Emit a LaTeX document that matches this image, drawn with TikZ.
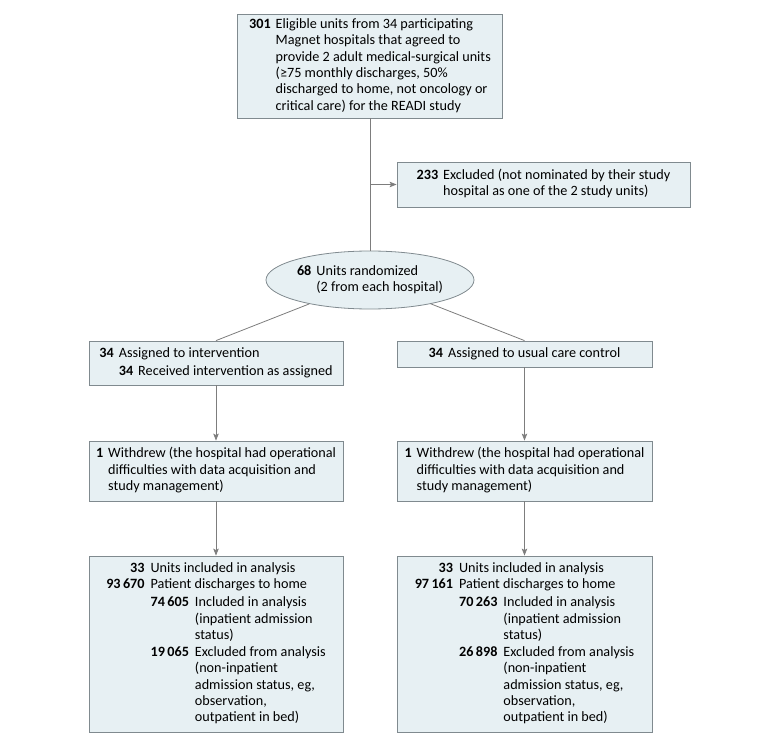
\documentclass[tikz,border=0pt]{standalone}
\usepackage{fontspec}
\setmainfont{Carlito}
\usetikzlibrary{shapes.geometric,arrows.meta}
\definecolor{boxfill}{RGB}{231,240,243}
\definecolor{boxline}{RGB}{128,138,143}
\definecolor{arrline}{RGB}{125,125,125}
\tikzset{
  box/.style={draw=boxline,fill=boxfill,line width=0.8pt,inner sep=0pt,align=left},
  link/.style={draw=arrline,line width=0.8pt},
  arr/.style={link,-{Stealth[length=7pt,width=5.5pt,inset=1.5pt]}}
}
\newcommand{\num}[1]{\textbf{#1}}
\newcommand{\spanl}[1]{\multicolumn{2}{@{}l@{}}{#1}}

\begin{document}
\begin{tikzpicture}[x=1pt,y=-1pt,font=\fontsize{14.2}{16.3}\selectfont]
  \useasboundingbox (0,0) rectangle (780,746);
  \node[box,minimum width=265pt,minimum height=104pt] (elig) at (370,66)
    {\begin{tabular}{@{}r@{\hspace{5pt}}l@{}}
      \num{301} & Eligible units from 34 participating\\
      & Magnet hospitals that agreed to\\
      & provide 2 adult medical-surgical units\\
      & (≥75 monthly discharges, 50\%\\
      & discharged to home, not oncology or\\
      & critical care) for the READI study
    \end{tabular}};
  \node[box,minimum width=293pt,minimum height=45pt] (excl) at (543.5,184.5)
    {\begin{tabular}{@{}r@{\hspace{5pt}}l@{}}
      \num{233} & Excluded (not nominated by their study\\
      & hospital as one of the 2 study units)
    \end{tabular}};
  \node[box,ellipse,minimum width=208pt,minimum height=58pt] (rand) at (370,280)
    {\begin{tabular}{@{}r@{\hspace{5pt}}l@{}}
      \num{68} & Units randomized\\
      & (2 from each hospital)
    \end{tabular}};
  \node[box,minimum width=254pt,minimum height=44pt] (asgL) at (216,363)
    {\begin{tabular}{@{}r@{\hspace{5pt}}r@{\hspace{5pt}}l@{}}
      \num{34} & \spanl{Assigned to intervention}\\[1.5pt]
      & \num{34} & Received intervention as assigned
    \end{tabular}};
  \node[box,minimum width=255pt,minimum height=26pt] (asgR) at (524.5,354)
    {\begin{tabular}{@{}r@{\hspace{5pt}}l@{}}
      \num{34} & Assigned to usual care control
    \end{tabular}};
  \node[box,minimum width=254pt,minimum height=60pt] (wdL) at (216,471)
    {\begin{tabular}{@{}r@{\hspace{5pt}}l@{}}
      \num{1} & Withdrew (the hospital had operational\\
      & difficulties with data acquisition and\\
      & study management)
    \end{tabular}};
  \node[box,minimum width=255pt,minimum height=60pt] (wdR) at (524.5,471)
    {\begin{tabular}{@{}r@{\hspace{5pt}}l@{}}
      \num{1} & Withdrew (the hospital had operational\\
      & difficulties with data acquisition and\\
      & study management)
    \end{tabular}};
  \node[box,minimum width=254pt,minimum height=176pt] (anaL) at (216,644)
    {\begin{tabular}{@{}r@{\hspace{6pt}}r@{\hspace{6pt}}l@{}}
      \num{33} & \spanl{Units included in analysis}\\
      \num{93\,670} & \spanl{Patient discharges to home}\\[1.5pt]
      & \num{74\,605} & Included in analysis\\
      & & (inpatient admission\\
      & & status)\\[1pt]
      & \num{19\,065} & Excluded from analysis\\
      & & (non-inpatient\\
      & & admission status, eg,\\
      & & observation,\\
      & & outpatient in bed)
    \end{tabular}};
  \node[box,minimum width=255pt,minimum height=176pt] (anaR) at (524.5,644)
    {\begin{tabular}{@{}r@{\hspace{6pt}}r@{\hspace{6pt}}l@{}}
      \num{33} & \spanl{Units included in analysis}\\
      \num{97\,161} & \spanl{Patient discharges to home}\\[1.5pt]
      & \num{70\,263} & Included in analysis\\
      & & (inpatient admission\\
      & & status)\\[1pt]
      & \num{26\,898} & Excluded from analysis\\
      & & (non-inpatient\\
      & & admission status, eg,\\
      & & observation,\\
      & & outpatient in bed)
    \end{tabular}};
  \coordinate (brk) at (elig.south |- excl.west);
  \draw[link] (elig) -- (rand);
  \draw[arr] (brk) -- (excl);
  \draw[link] (rand) -- (asgL.north);
  \draw[link] (rand) -- (asgR.north);
  \draw[arr] (asgL) -- (wdL);
  \draw[arr] (asgR) -- (wdR);
  \draw[arr] (wdL) -- (anaL);
  \draw[arr] (wdR) -- (anaR);
\end{tikzpicture}
\end{document}
